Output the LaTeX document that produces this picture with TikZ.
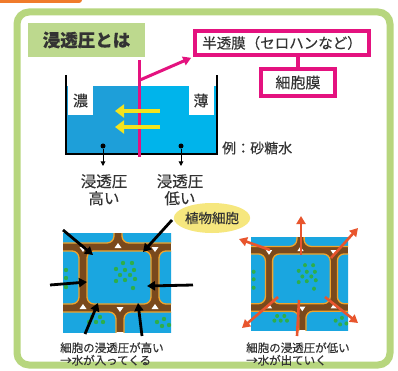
\documentclass[tikz,border=0pt]{standalone}
\usepackage{fontspec}
\setmainfont{Noto Sans CJK JP}[FakeBold=0.35]
\usetikzlibrary{shapes.geometric, arrows.meta}

\definecolor{framegreen}{HTML}{B7D67E}
\definecolor{titlegreen}{HTML}{BDD98E}
\definecolor{pinkline}{HTML}{E4127F}
\definecolor{waterdark}{HTML}{1E9FD9}
\definecolor{waterlight}{HTML}{00B4EB}
\definecolor{flowyellow}{HTML}{F3E31E}
\definecolor{tagyellow}{HTML}{F6E77E}
\definecolor{wallbrown}{HTML}{7A491C}
\definecolor{cellrim}{HTML}{F0A42C}
\definecolor{cellblue}{HTML}{1AA6E0}
\definecolor{dotgreen}{HTML}{2DAE4B}
\definecolor{outred}{HTML}{E8552D}
\definecolor{inkgray}{HTML}{333333}
\definecolor{topbar}{HTML}{F07B2B}

\tikzset{
  txt/.style={text=inkgray, inner sep=0pt},
  titlebox/.style={fill=titlegreen, minimum width=117pt, minimum height=34pt, inner sep=0pt,
    text=inkgray, font=\fontsize{17.5}{20}\selectfont\bfseries},
  pinkbox/.style={draw=pinkline, line width=4pt, fill=white, inner sep=0pt, text=inkgray},
  tagbox/.style={fill=white, minimum width=25pt, minimum height=29pt, inner sep=0pt,
    text=inkgray, font=\fontsize{15}{17}\selectfont},
  flow/.style={flowyellow, line width=4.5pt, -{Triangle[width=13pt,length=9pt]}},
  inarrow/.style={black, line width=2.8pt, -{Triangle[width=9pt,length=8pt]}},
  outarrow/.style={outred, line width=2.6pt, -{Triangle[width=9pt,length=8pt]}},
  pics/tissue/.style={code={
    \begin{scope}
      \clip (0,0) rectangle (108,99);
      \fill[wallbrown] (0,0) rectangle (108,99);
      \foreach \a/\b/\c/\d in {-40/-20/51/10, 59/-20/150/10,
                               -40/18/16/71, 24/18/88/71, 96/18/150/71,
                               -40/79/53/120, 61/79/150/120}
        \draw[cellrim, fill=cellblue, line width=1.3pt, rounded corners=7pt] (\a,\b) rectangle (\c,\d);
      % intercellular spaces at the wall junctions
      \foreach \p in {(20,16), (92,16), (57,76)}
        \fill[white] \p ++(-3.5,-2) -- ++(7,0) -- ++(-3.5,5) -- cycle;
      \foreach \p in {(55,13), (20,74), (92,74)}
        \fill[white] \p ++(-3.5,2) -- ++(7,0) -- ++(-3.5,-5) -- cycle;
      % chloroplasts
      \foreach \p in {(60,30),(69,30),(53,36),(62,37),(71,37),(57,42),(67,42),
                      (53,48),(62,47),(72,46),(70,55),
                      (3,37),(3,45),(3,54),
                      (29,84),(37,84),(26,89),(33,89),(40,89),
                      (94,89),(101,86),(99,93),(106,92)}
        \fill[dotgreen] \p circle (2.2);
    \end{scope}
  }},
}

\begin{document}
\begin{tikzpicture}[x=1pt, y=-1pt]
\useasboundingbox (0,0) rectangle (398,371);
\fill[white] (0,0) rectangle (398,371);

% corner tab and outer frame
\fill[topbar, rounded corners=3pt] (-6,-6) rectangle (82,3);
\draw[framegreen, line width=7pt, rounded corners=12pt] (17,12) rectangle (390,365);

% heading
\node[titlebox] (title) at (86.5,40) {浸透圧とは};

% beaker with the two solutions
\fill[waterdark] (66,86) rectangle (139,154);
\fill[waterlight] (139,86) rectangle (217,154);
\draw[black, line width=2pt] (66,75) -- (66,154) -- (217,154) -- (217,75);

% membrane labels
\node[pinkbox, minimum width=174pt, minimum height=24pt,
      font=\fontsize{14.5}{16}\selectfont] (semi) at (282,43) {半透膜（セロハンなど）};
\node[pinkbox, minimum width=74pt, minimum height=27pt,
      font=\fontsize{15}{17}\selectfont] (cellmem) at (298,82.5) {細胞膜};
\draw[pinkline, line width=4pt] (cellmem.north) -- (cellmem.north |- semi.south);

% membrane across the beaker
\coordinate (mtop) at (139,60);
\coordinate (mbot) at (139,157);
\coordinate (mfork) at (140,80);
\draw[pinkline, line width=3pt] (mtop) -- (mbot);
\draw[pinkline, line width=3pt, -{Triangle[width=9pt,length=8pt]}, shorten >=2pt]
  (mfork) -- (semi.south west);

% concentration tags
\node[tagbox] (dense) at (80.5,100.5) {濃};
\node[tagbox] (thin) at (201,100.5) {薄};

% water flow through the membrane
\coordinate (f1s) at (160,111); \coordinate (f1e) at (115,111);
\coordinate (f2s) at (160,127); \coordinate (f2e) at (115,127);
\draw[flow] (f1s) -- (f1e);
\draw[flow] (f2s) -- (f2e);

\node[txt, anchor=west, font=\fontsize{14}{16}\selectfont] (example) at (222,148) {例：砂糖水};

% osmotic pressure of each side
\node[circle, fill=black, inner sep=0pt, minimum size=5pt] (dotL) at (103,146) {};
\node[circle, fill=black, inner sep=0pt, minimum size=5pt] (dotR) at (181,146) {};
\node[txt, align=center, anchor=north, font=\fontsize{15.5}{17}\selectfont] (labL) at (104,174) {浸透圧\\高い};
\node[txt, align=center, anchor=north, font=\fontsize{15.5}{17}\selectfont] (labR) at (180,174) {浸透圧\\低い};
\draw[black, line width=1pt, -{Triangle[width=4.5pt,length=4.5pt]}, shorten >=8pt] (dotL) -- (labL.north -| dotL);
\draw[black, line width=1pt, -{Triangle[width=4.5pt,length=4.5pt]}, shorten >=8pt] (dotR) -- (labR.north -| dotR);

% plant cell tag
\node[ellipse, fill=tagyellow, minimum width=75pt, minimum height=30pt, inner sep=0pt,
      text=inkgray, font=\fontsize{13.5}{15}\selectfont] (plant) at (212,218) {植物細胞};

% plant tissue: water entering
\pic (tisL) at (63,233) {tissue};
\coordinate (a1) at (63,230);  \coordinate (b1) at (93,255);
\coordinate (a2) at (172,220); \coordinate (b2) at (143,252);
\coordinate (a3) at (50,285);  \coordinate (b3) at (87,282);
\coordinate (a4) at (193,285); \coordinate (b4) at (147,286);
\coordinate (a5) at (85,334);  \coordinate (b5) at (98,303);
\coordinate (a6) at (142,336); \coordinate (b6) at (138,303);
\foreach \i in {1,...,6} \draw[inarrow] (a\i) -- (b\i);

% plant tissue: water leaving
\pic[xscale=0.9, yscale=0.94] (tisR) at (251,237) {tissue};
\coordinate (c1) at (301,255); \coordinate (d1) at (301,216);
\coordinate (c2) at (270,250); \coordinate (d2) at (239,239);
\coordinate (c3) at (331,258); \coordinate (d3) at (358,228);
\coordinate (c4) at (278,297); \coordinate (d4) at (242,328);
\coordinate (c6) at (325,297); \coordinate (d6) at (358,323);
\foreach \i in {1,2,3,4,6} \draw[outarrow] (c\i) -- (d\i);
\coordinate (c5) at (299,300); \coordinate (d5) at (297,336);
\draw[outred, line width=2.6pt] (c5) -- (d5);

% captions
\node[txt, anchor=west, align=left, font=\fontsize{11.5}{12.5}\selectfont] (capL) at (60,354)
  {細胞の浸透圧が高い\\→水が入ってくる};
\node[txt, anchor=west, align=left, font=\fontsize{11.5}{12.5}\selectfont] (capR) at (246,354)
  {細胞の浸透圧が低い\\→水が出ていく};
\end{tikzpicture}
\end{document}
